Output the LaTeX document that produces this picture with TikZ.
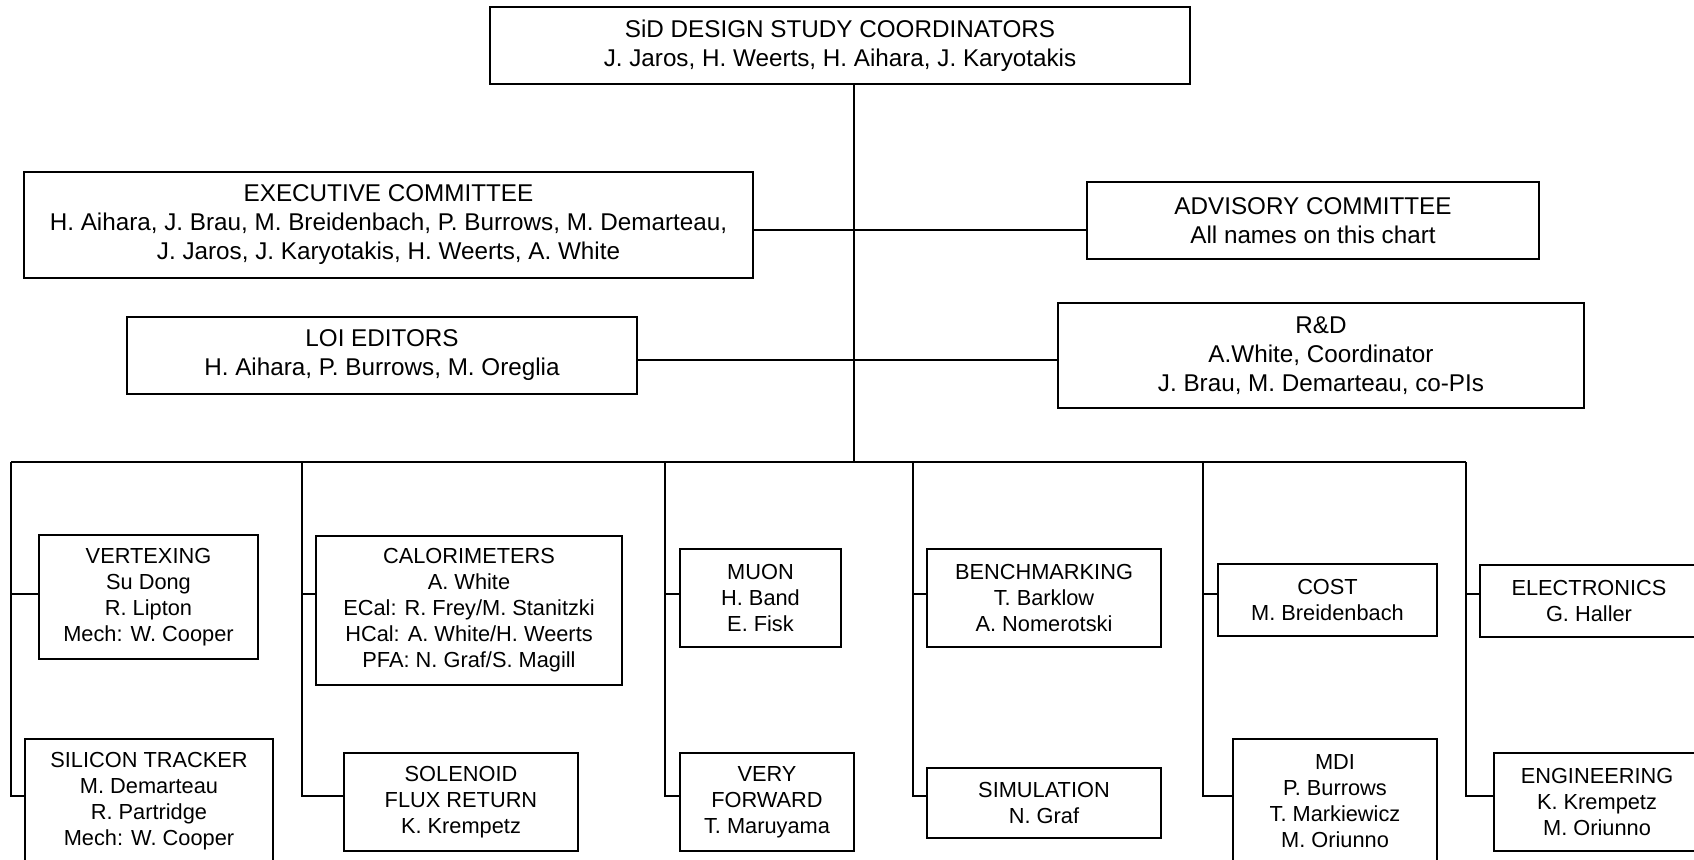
\documentclass[tikz,border=0pt]{standalone}
\usepackage{fontspec}
\setmainfont{Liberation Sans}
\usepackage{tikz}
\usetikzlibrary{positioning}

\begin{document}
\begin{tikzpicture}[
  x=0.02cm, y=-0.02cm,
  every node/.style={inner sep=0pt},
  unit/.style={draw, line width=0.8pt, align=center,
    font=\fontsize{12.4}{14.8}\selectfont},
  board/.style={unit, font=\fontsize{13.8}{16.5}\selectfont},
  link/.style={line width=0.8pt},
]
\clip (0,0) rectangle (1694,859);

% Coordinators
\node[board, minimum width=14cm, minimum height=1.54cm] (coord) at (840,45.5)
  {SiD DESIGN STUDY COORDINATORS\\J. Jaros, H. Weerts, H. Aihara, J. Karyotakis};

% Committees
\node[board, minimum width=14.58cm, minimum height=2.12cm] (exec) at (388.5,225)
  {EXECUTIVE COMMITTEE\\H. Aihara, J. Brau, M. Breidenbach, P. Burrows, M. Demarteau,\\J. Jaros, J. Karyotakis, H. Weerts, A. White};
\node[board, minimum width=9.04cm, minimum height=1.54cm] (adv) at (1313,220.5)
  {ADVISORY COMMITTEE\\All names on this chart};
\node[board, minimum width=10.2cm, minimum height=1.54cm] (loi) at (382,355.5)
  {LOI EDITORS\\H. Aihara, P. Burrows, M. Oreglia};
\node[board, minimum width=10.52cm, minimum height=2.1cm] (rnd) at (1321,355.5)
  {R\&D\\A.White, Coordinator\\J. Brau, M. Demarteau, co-PIs};

% Working groups, upper row
\node[unit, minimum width=4.38cm, minimum height=2.48cm] (vtx) at (148.5,597)
  {VERTEXING\\Su Dong\\R. Lipton\\Mech: W. Cooper};
\node[unit, minimum width=6.12cm, minimum height=2.98cm] (cal) at (469,610.5)
  {CALORIMETERS\\A. White\\ECal: R. Frey/M. Stanitzki\\HCal: A. White/H. Weerts\\PFA: N. Graf/S. Magill};
\node[unit, minimum width=3.22cm, minimum height=1.96cm] (muon) at (760.5,598)
  {MUON\\H. Band\\E. Fisk};
\node[unit, minimum width=4.68cm, minimum height=1.96cm] (bench) at (1044,598)
  {BENCHMARKING\\T. Barklow\\A. Nomerotski};
\node[unit, minimum width=4.38cm, minimum height=1.44cm] (cost) at (1327.5,600)
  {COST\\M. Breidenbach};
\node[unit, minimum width=4.36cm, minimum height=1.44cm] (elec) at (1589,601)
  {ELECTRONICS\\G. Haller};

% Working groups, lower row
\node[unit, minimum width=4.96cm, minimum height=2.48cm] (sit) at (149,801)
  {SILICON TRACKER\\M. Demarteau\\R. Partridge\\Mech: W. Cooper};
\node[unit, minimum width=4.68cm, minimum height=1.96cm] (sol) at (461,802)
  {SOLENOID\\FLUX RETURN\\K. Krempetz};
\node[unit, minimum width=3.48cm, minimum height=1.96cm] (vfw) at (767,802)
  {VERY\\FORWARD\\T. Maruyama};
\node[unit, minimum width=4.68cm, minimum height=1.4cm] (sim) at (1044,803)
  {SIMULATION\\N. Graf};
\node[unit, minimum width=4.08cm, minimum height=2.48cm] (mdi) at (1335,801)
  {MDI\\P. Burrows\\T. Markiewicz\\M. Oriunno};
\node[unit, minimum width=4.12cm, minimum height=1.96cm] (eng) at (1597,802)
  {ENGINEERING\\K. Krempetz\\M. Oriunno};

% Junctions
\coordinate (bus) at (854,462);
\coordinate (jexec) at (854,230);
\coordinate (jloi) at (854,360);
\coordinate (row1) at (0,594);
\coordinate (row2) at (0,796);
\coordinate (k1) at (11,462);
\coordinate (k2) at (302,462);
\coordinate (k3) at (665,462);
\coordinate (k4) at (913,462);
\coordinate (k5) at (1203,462);
\coordinate (k6) at (1466,462);

% Trunk and side branches
\draw[link] (coord.south -| bus) -- (bus);
\draw[link] (exec.east |- jexec) -- (adv.west |- jexec);
\draw[link] (loi.east |- jloi) -- (rnd.west |- jloi);

% Bus and columns
\draw[link] (k1) -- (k6);
\draw[link] (k1) -- (k1 |- row2) -- (sit.west |- row2);
\draw[link] (k1 |- row1) -- (vtx.west |- row1);
\draw[link] (k2) -- (k2 |- row2) -- (sol.west |- row2);
\draw[link] (k2 |- row1) -- (cal.west |- row1);
\draw[link] (k3) -- (k3 |- row2) -- (vfw.west |- row2);
\draw[link] (k3 |- row1) -- (muon.west |- row1);
\draw[link] (k4) -- (k4 |- row2) -- (sim.west |- row2);
\draw[link] (k4 |- row1) -- (bench.west |- row1);
\draw[link] (k5) -- (k5 |- row2) -- (mdi.west |- row2);
\draw[link] (k5 |- row1) -- (cost.west |- row1);
\draw[link] (k6) -- (k6 |- row2) -- (eng.west |- row2);
\draw[link] (k6 |- row1) -- (elec.west |- row1);

\end{tikzpicture}
\end{document}
